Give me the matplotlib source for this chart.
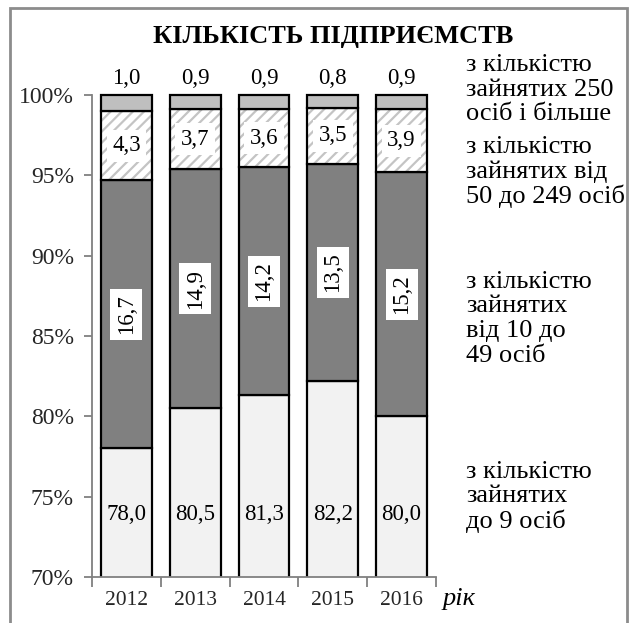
import matplotlib
matplotlib.use("Agg")
import matplotlib.pyplot as plt
from matplotlib.patches import Rectangle

plt.rcParams['font.family'] = ['Liberation Serif', 'DejaVu Serif']
plt.rcParams['hatch.linewidth'] = 1.6

years = ["2012", "2013", "2014", "2015", "2016"]
micro = [78.0, 80.5, 81.3, 82.2, 80.0]        # до 9 осіб
small = [16.7, 14.9, 14.2, 13.5, 15.2]        # від 10 до 49
medium = [4.3, 3.7, 3.6, 3.5, 3.9]            # від 50 до 249
large = [1.0, 0.9, 0.9, 0.8, 0.9]             # 250 і більше
yticks = [70, 75, 80, 85, 90, 95, 100]
ytick_labels = ["70%", "75%", "80%", "85%", "90%", "95%", "100%"]

title = "КІЛЬКІСТЬ ПІДПРИЄМСТВ"
side_labels = [
    (["з кількістю", "зайнятих 250", "осіб і більше"], 65),
    (["з кількістю", "зайнятих від", "50 до 249 осіб"], 147),
    (["з кількістю", "зайнятих", "від 10 до", "49 осіб"], 282),
    (["з кількістю", "зайнятих", "до 9 осіб"], 472),
]

W, H = 638, 623
fig = plt.figure(figsize=(W / 100, H / 100), dpi=100)
ax = fig.add_axes([92 / W, 1 - 577 / H, (436 - 92) / W, (577 - 95) / H])

x = list(range(len(years)))
bw = 0.74
edge = dict(edgecolor='black', linewidth=1.6)

b1 = [0] * len(x)
b2 = micro
b3 = [m + s for m, s in zip(micro, small)]
b4 = [m + s + d for m, s, d in zip(micro, small, medium)]

ax.bar(x, micro, bw, bottom=b1, color='#f2f2f2', **edge, zorder=2)
ax.bar(x, small, bw, bottom=b2, color='#808080', **edge, zorder=2)
ax.bar(x, medium, bw, bottom=b3, color='white', edgecolor='#c4c4c4',
       linewidth=0, hatch='///', zorder=2)
ax.bar(x, medium, bw, bottom=b3, fill=False, **edge, zorder=3)
bars_top = ax.bar(x, large, bw, bottom=b4, color='#bfbfbf', **edge, zorder=3)
for p in bars_top:
    p.set_clip_on(False)

vfs = 16.5
for i in x:
    ax.text(i, 73.9, f"{micro[i]:.1f}".replace('.', ','), ha='center', va='center',
            fontsize=vfs, zorder=5)
    ax.text(i, b2[i] + small[i] / 2, f"{small[i]:.1f}".replace('.', ','),
            ha='center', va='center', rotation=90, fontsize=vfs, zorder=5,
            bbox=dict(facecolor='white', edgecolor='none', pad=4))
    ax.text(i, b3[i] + medium[i] / 2, f"{medium[i]:.1f}".replace('.', ','),
            ha='center', va='center', fontsize=vfs, zorder=5,
            bbox=dict(facecolor='white', edgecolor='none', pad=4))
    ax.text(i, 101.0, f"{large[i]:.1f}".replace('.', ','), ha='center', va='center',
            fontsize=vfs, zorder=5, clip_on=False)

ax.set_xlim(-0.5, len(x) - 0.5)
ax.set_ylim(70, 100)
ax.set_yticks(yticks)
ax.set_yticklabels(ytick_labels, fontsize=17, color='#262626')
ax.set_xticks(x)
ax.set_xticklabels(years, fontsize=15.5, color='#262626')
ax.tick_params(axis='x', which='major', length=0, pad=10)
ax.set_xticks([i - 0.5 for i in range(len(x) + 1)], minor=True)
ax.tick_params(axis='x', which='minor', length=7, width=1.3, color='#808080')
ax.tick_params(axis='y', length=6, width=1.3, color='#808080', pad=7)

for s in ['top', 'right']:
    ax.spines[s].set_visible(False)
for s in ['left', 'bottom']:
    ax.spines[s].set_color('#808080')
    ax.spines[s].set_linewidth(1.3)
ax.spines['bottom'].set_zorder(4)

ax.text(len(x) - 0.5 + 0.1, 68.6, "рік", fontsize=19, style='italic',
        ha='left', va='center', clip_on=False)

fig.text(333 / W, 1 - 36 / H, title, fontsize=19, fontweight='bold',
         ha='center', va='center')

line_step = 24.5
for lines, yc in side_labels:
    for k, line in enumerate(lines):
        fig.text(466 / W, 1 - (yc + k * line_step) / H, line, fontsize=19,
                 ha='left', va='center')

fig.add_artist(Rectangle((10 / W, -0.02), (627 - 10) / W, 1 - 8 / H + 0.02,
                         transform=fig.transFigure, fill=False,
                         edgecolor='#8c8c8c', linewidth=2))

fig.savefig("out.png", dpi=100, facecolor='white')
